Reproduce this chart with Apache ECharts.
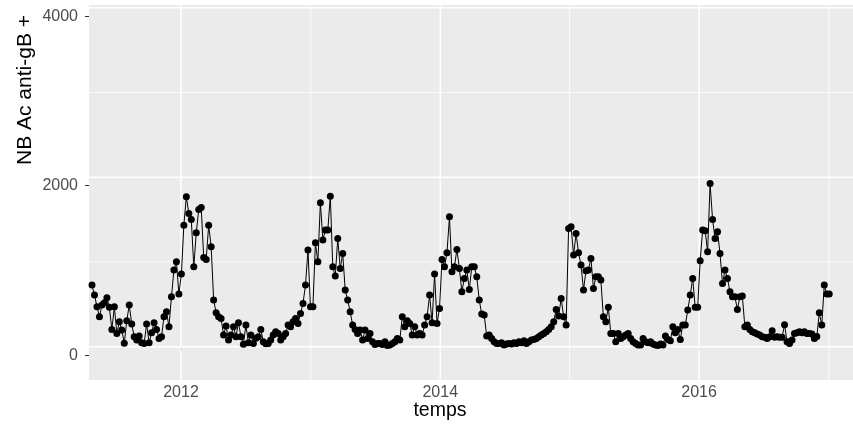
<!DOCTYPE html>
<html><head><meta charset="utf-8">
<script src="https://cdn.jsdelivr.net/npm/echarts@6/dist/echarts.min.js"></script>
<style>html,body{margin:0;padding:0;background:#fff}#c{width:853px;height:426px}</style>
</head><body><div id="c"></div>
<script>
// weekly counts, first week starting 2011-04-25
const firstWeek = '2011-04-25';
const part1 = [727, 609, 472, 354, 491, 519, 578, 464, 204, 472, 157, 295, 197, 40, 307, 491, 267, 118, 79, 126, 47, 39, 267, 47, 165, 283, 204];
const part2 = [98, 118, 354, 413, 236, 590, 904, 1002, 621, 857, 1434, 1769, 1572, 1501, 943, 1344, 1619, 1643, 1053, 1030, 1434, 1179, 550, 401, 354, 334, 138, 244];
const part3 = [79, 138, 236, 118, 283, 118, 30, 255, 47, 138, 39, 100, 118, 204, 59, 35, 39, 79, 138, 177, 157, 79, 118, 157, 255, 236, 295, 334];
const part4 = [275, 393, 511, 727, 1140, 472, 472, 1226, 1002, 1698, 1258, 1376, 1376, 1776, 943, 833, 1277, 924, 1100, 668, 550, 413, 255, 204, 157, 197, 79, 197];
const part5 = [98, 157, 59, 25, 39, 39, 25, 59, 15, 20, 39, 59, 98, 79, 354, 236, 307, 275, 138, 236, 138, 157, 138, 255, 354, 609, 283, 857];
const part6 = [275, 452, 1030, 943, 1108, 1533, 884, 943, 1148, 924, 648, 806, 904, 676, 943, 943, 825, 550, 385, 373, 126, 138, 98, 59, 39, 39, 47, 20];
const part7 = [31, 39, 31, 47, 39, 59, 47, 71, 39, 59, 79, 86, 98, 118, 138, 157, 177, 204, 236, 295, 440, 362, 570, 354, 255, 1395, 1415, 1081];
const part8 = [1336, 1108, 963, 668, 896, 904, 1041, 688, 825, 825, 786, 354, 295, 464, 157, 157, 59, 157, 98, 118, 138, 157, 98, 59, 39, 20, 20, 98];
const part9 = [59, 47, 59, 31, 20, 15, 31, 20, 126, 86, 71, 236, 165, 204, 86, 255, 255, 432, 609, 806, 464, 464, 1014, 1376, 1368, 1120, 1926, 1501, 1277];
const part10 = [1356, 1100, 747, 904, 806, 648, 590, 590, 440, 590, 597, 236, 255, 204, 177, 165, 149, 138, 118, 110, 98, 118, 189, 110, 118, 110, 110];
const part11 = [260, 59, 39, 79, 157, 165, 177, 165, 177, 157, 157, 149, 98, 120, 401, 255, 727, 621, 621];

const yTickLabels = [0, 2000, 4000];
const yMinorBreaks = [1000, 3000];
const xTickLabels = ['2012-01-01', '2014-01-01', '2016-01-01'];
const xMinorBreaks = ['2013-01-01', '2015-01-01', '2017-01-01'];

const yMin = -393, yMax = 4032;
const xMin = Date.UTC(2011, 3, 16, 12), xMax = Date.UTC(2017, 2, 10);

const values = [].concat(part1, part2, part3, part4, part5, part6, part7, part8, part9, part10, part11);
const t0 = Date.parse(firstWeek + 'T00:00:00Z');
const seriesData = values.map((v, i) => [t0 + i * 7 * 86400000, v]);

const ts = s => Date.parse(s + 'T00:00:00Z');
const gridSeries = [];
function hLine(v, w) {
  gridSeries.push({type: 'line', data: [[xMin, v], [xMax, v]], symbol: 'none', silent: true, z: 1,
    lineStyle: {color: '#FFFFFF', width: w}, animation: false});
}
function vLine(t, w) {
  gridSeries.push({type: 'line', data: [[t, yMin], [t, yMax]], symbol: 'none', silent: true, z: 1,
    lineStyle: {color: '#FFFFFF', width: w}, animation: false});
}
yMinorBreaks.forEach(v => hLine(v, 0.8));
xMinorBreaks.forEach(s => vLine(ts(s), 0.8));
yTickLabels.forEach(v => hLine(v, 1.5));
xTickLabels.forEach(s => vLine(ts(s), 1.5));

const chart = echarts.init(document.getElementById('c'), null, {renderer: 'canvas'});
chart.setOption({
  animation: false,
  backgroundColor: '#FFFFFF',
  textStyle: {fontFamily: 'Liberation Sans'},
  grid: {left: 89, right: 0, top: 5, bottom: 46, show: true, backgroundColor: '#EBEBEB', borderWidth: 0, containLabel: false},
  xAxis: {
    type: 'value', min: xMin, max: xMax,
    axisLine: {show: false},
    splitLine: {show: false},
    axisTick: {show: true, customValues: xTickLabels.map(ts), length: 4, lineStyle: {color: '#333333', width: 1}},
    axisLabel: {customValues: xTickLabels.map(ts), formatter: v => String(new Date(v).getUTCFullYear()),
      fontSize: 16, color: '#4D4D4D', margin: 5, fontFamily: 'Liberation Sans'}
  },
  yAxis: {
    type: 'value', min: yMin, max: yMax,
    axisLine: {show: false},
    splitLine: {show: false},
    axisTick: {show: true, customValues: [-100, 1900, 3900], length: 4, lineStyle: {color: '#333333', width: 1}},
    axisLabel: {customValues: yTickLabels, formatter: v => String(v), verticalAlign: 'top', lineHeight: 17,
      fontSize: 16, color: '#4D4D4D', margin: 11, fontFamily: 'Liberation Sans'}
  },
  graphic: [
    {type: 'text', x: 25, y: 90, rotation: Math.PI / 2, z: 10,
      style: {text: 'NB Ac anti-gB +', fontSize: 21, fontFamily: 'Liberation Sans', fill: '#000000', align: 'center', verticalAlign: 'middle'}},
    {type: 'text', x: 440, y: 411, z: 10,
      style: {text: 'temps', fontSize: 19.5, fontFamily: 'Liberation Sans', fill: '#000000', align: 'center', verticalAlign: 'middle'}}
  ],
  series: gridSeries.concat([{
    type: 'line', data: seriesData, z: 3,
    symbol: 'circle', symbolSize: 7, showSymbol: true,
    itemStyle: {color: '#000000'},
    lineStyle: {color: '#000000', width: 1},
    animation: false
  }])
});
</script></body></html>
